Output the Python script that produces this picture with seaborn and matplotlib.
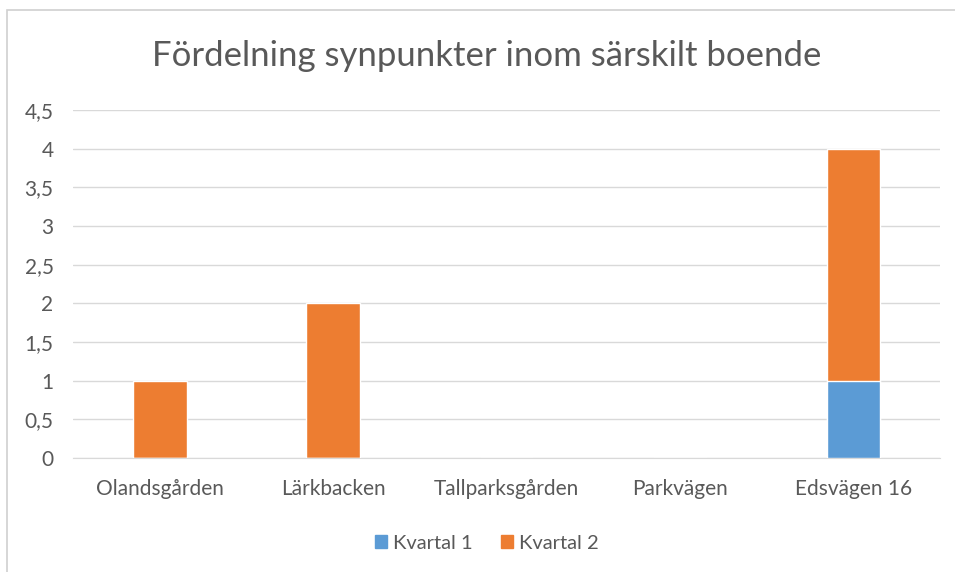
import numpy as np
import pandas as pd
import matplotlib.pyplot as plt
import seaborn as sns
from matplotlib.patches import Patch, Rectangle

# Data
boenden = ["Olandsgården", "Lärkbacken", "Tallparksgården", "Parkvägen", "Edsvägen 16"]
kvartal_1 = [0, 0, 0, 0, 1]
kvartal_2 = [1, 2, 0, 0, 3]
y_ticks = [0, 0.5, 1, 1.5, 2, 2.5, 3, 3.5, 4, 4.5]
y_labels = ["0", "0,5", "1", "1,5", "2", "2,5", "3", "3,5", "4", "4,5"]

blue = "#5B9BD5"
orange = "#ED7D31"
grid_grey = "#D9D9D9"
text_grey = "#595959"

df = pd.DataFrame({"Boende": boenden, "Kvartal 1": kvartal_1, "Kvartal 2": kvartal_2})
df["Totalt"] = df["Kvartal 1"] + df["Kvartal 2"]

sns.set_style("white")
plt.rcParams["font.family"] = ["Lato", "DejaVu Sans"]

fig = plt.figure(figsize=(9.55, 5.72), dpi=100)
ax = fig.add_axes([0.0764, 0.199, 0.908, 0.609])

# stacked bars: total in orange, kvartal 1 drawn over the bottom part
sns.barplot(data=df, x="Boende", y="Totalt", color=orange, width=0.31,
            saturation=1, ax=ax, zorder=3)
sns.barplot(data=df, x="Boende", y="Kvartal 1", color=blue, width=0.31,
            saturation=1, ax=ax, zorder=4)

ax.set_ylim(0, 4.5)
ax.set_xlim(-0.5, 4.5)
ax.set_yticks(y_ticks)
ax.set_yticklabels(y_labels)
ax.set_xlabel("")
ax.set_ylabel("")
ax.yaxis.grid(True, color=grid_grey, linewidth=1)
ax.set_axisbelow(True)
for side in ["top", "right", "left"]:
    ax.spines[side].set_visible(False)
ax.spines["bottom"].set_color(grid_grey)
ax.tick_params(axis="both", length=0, labelsize=15, colors=text_grey)
ax.tick_params(axis="y", pad=14)
ax.tick_params(axis="x", pad=15)

fig.text(0.51, 0.902, "Fördelning synpunkter inom särskilt boende",
         ha="center", va="center", fontsize=25, color=text_grey)

handles = [Patch(color=blue, label="Kvartal 1"), Patch(color=orange, label="Kvartal 2")]
fig.legend(handles=handles, loc="center", bbox_to_anchor=(0.51, 0.05), ncol=2,
           frameon=False, fontsize=14.5, handlelength=0.6, handleheight=0.6,
           handletextpad=0.3, columnspacing=1.4, labelcolor=text_grey)

# outer frame of the chart area
fig.patches.append(Rectangle((0.007, -0.1), 1.1, 1.083, transform=fig.transFigure,
                             fill=False, edgecolor="#D0D0D0", linewidth=1.2))

plt.savefig("out.png", dpi=100)
